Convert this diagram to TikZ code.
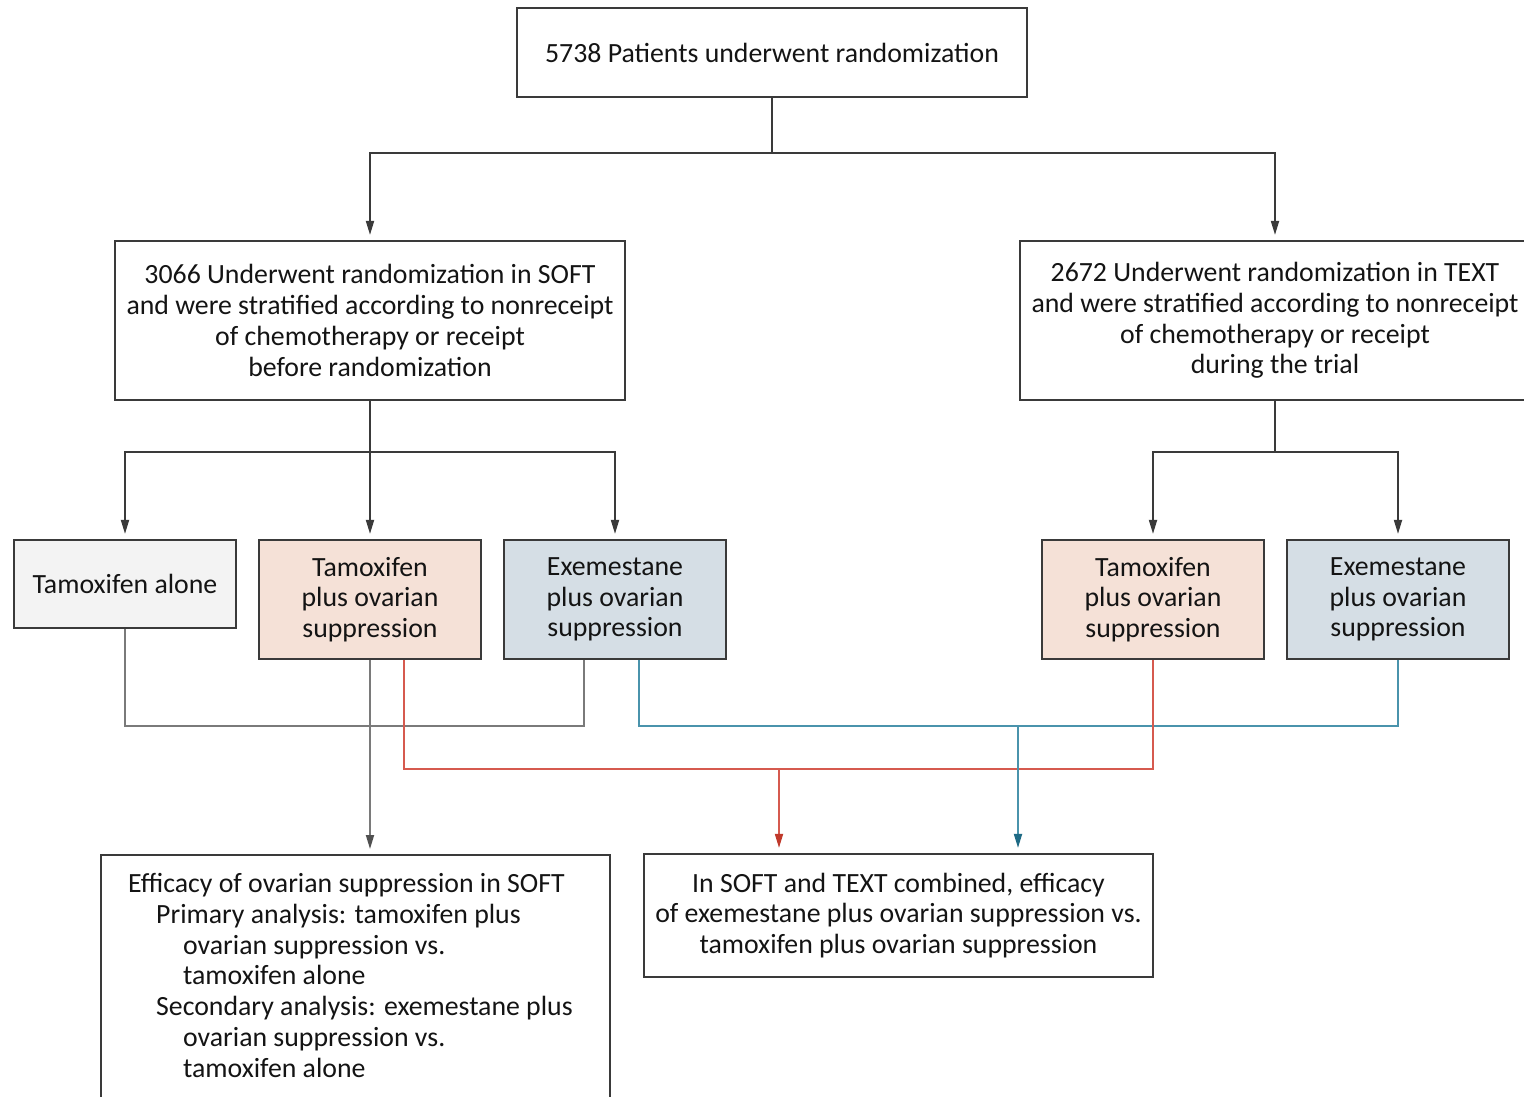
\documentclass[tikz,border=0pt]{standalone}
\usepackage{fontspec}
\setmainfont{Carlito}
\usetikzlibrary{arrows.meta,calc}
\definecolor{boxc}{HTML}{3A3A3A}
\definecolor{alonec}{HTML}{F3F3F3}
\definecolor{salmon}{HTML}{F5E1D7}
\definecolor{bluegray}{HTML}{D5DEE5}
\definecolor{grayln}{HTML}{7A7A7A}
\definecolor{grayhd}{HTML}{505050}
\definecolor{redln}{HTML}{D65A4F}
\definecolor{redhd}{HTML}{C0392B}
\definecolor{blueln}{HTML}{4A93AC}
\definecolor{bluehd}{HTML}{1E6A85}
\begin{document}
\begin{tikzpicture}[x=1pt,y=-1pt,
  txt/.style={font=\fontsize{27.8}{30.8}\selectfont, text=black!92},
  box/.style={draw=boxc, line width=2.2pt, align=center, inner sep=0pt, txt},
  ln/.style={draw=boxc, line width=1.8pt},
  arrk/.style={ln, -{Triangle[length=14pt,width=8pt]}, shorten >=5pt},
  gline/.style={draw=grayln, line width=1.8pt},
  garr/.style={gline, -{Triangle[length=14pt,width=8pt,color=grayhd]}, shorten >=5pt},
  rline/.style={draw=redln, line width=1.8pt},
  rarr/.style={rline, -{Triangle[length=14pt,width=8pt,color=redhd]}, shorten >=5pt},
  bline/.style={draw=blueln, line width=1.8pt},
  barr/.style={bline, -{Triangle[length=14pt,width=8pt,color=bluehd]}, shorten >=5pt}
]
\useasboundingbox (0,0) rectangle (1524,1097);
\fill[white] (0,0) rectangle (1524,1097);

\node[box, minimum width=510, minimum height=89] (top) at (772,52.5) {5738 Patients underwent randomization};

\node[box, minimum width=510, minimum height=159] (soft) at (370,320.5)
  {3066 Underwent randomization in SOFT\\and were stratified according to nonreceipt\\of chemotherapy or receipt\\before randomization};
\node[box, minimum width=510, minimum height=159] (text) at (1275,320.5)
  {2672 Underwent randomization in TEXT\\and were stratified according to nonreceipt\\of chemotherapy or receipt\\during the trial};

\node[box, fill=alonec, minimum width=222, minimum height=88] (alone) at (125,584) {Tamoxifen alone};
\node[box, fill=salmon, minimum width=222, minimum height=119] (tamS) at (370,599.5) {Tamoxifen\\plus ovarian\\suppression};
\node[box, fill=bluegray, minimum width=222, minimum height=119] (exeS) at (615,599.5) {Exemestane\\plus ovarian\\suppression};
\node[box, fill=salmon, minimum width=222, minimum height=119] (tamT) at (1153,599.5) {Tamoxifen\\plus ovarian\\suppression};
\node[box, fill=bluegray, minimum width=222, minimum height=119] (exeT) at (1398,599.5) {Exemestane\\plus ovarian\\suppression};

\node[box, minimum width=509, minimum height=270, anchor=north west] (effL) at (100,854) {};
\node[txt, anchor=north west, align=left, inner sep=0pt] (effLtext) at (128,873)
  {Efficacy of ovarian suppression in SOFT\\
   \hspace*{28pt}Primary analysis: tamoxifen plus\\
   \hspace*{55pt}ovarian suppression vs.\\
   \hspace*{55pt}tamoxifen alone\\
   \hspace*{28pt}Secondary analysis: exemestane plus\\
   \hspace*{55pt}ovarian suppression vs.\\
   \hspace*{55pt}tamoxifen alone};

\node[box, minimum width=509, minimum height=123] (effR) at (898.5,915.5)
  {In SOFT and TEXT combined, efficacy\\of exemestane plus ovarian suppression vs.\\tamoxifen plus ovarian suppression};

% top split
\coordinate (j0) at (772,153);
\draw[ln] (top.south) -- (j0);
\draw[arrk] (j0) -| (soft.north);
\draw[arrk] (j0) -| (text.north);

% SOFT split
\coordinate (j1) at (370,452);
\draw[ln] (soft.south) -- (j1);
\draw[arrk] (j1) -| (alone.north);
\draw[arrk] (j1) -- (tamS.north);
\draw[arrk] (j1) -| (exeS.north);

% TEXT split
\coordinate (j2) at (1275,452);
\draw[ln] (text.south) -- (j2);
\draw[arrk] (j2) -| (tamT.north);
\draw[arrk] (j2) -| (exeT.north);

% gray
\draw[gline] (alone.south) -- ++(0,97) -| ([xshift=-31pt]exeS.south);
\draw[garr] (tamS.south) -- (tamS.south |- effL.north);

% blue
\draw[bline] ([xshift=24pt]exeS.south) -- ++(0,66) -| (exeT.south);
% red
\draw[rline] ([xshift=34pt]tamS.south) -- ++(0,109) -| (tamT.south);

\coordinate (rj) at (779,768);
\draw[rarr] (rj) -- (rj |- effR.north);
\coordinate (bj) at (1018,725);
\draw[barr] (bj) -- (bj |- effR.north);
\end{tikzpicture}
\end{document}
